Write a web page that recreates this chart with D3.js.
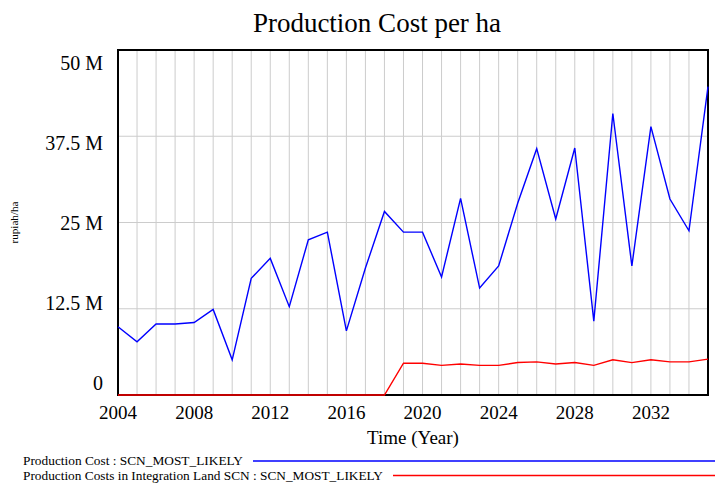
<!DOCTYPE html>
<html>
<head>
<meta charset="utf-8">
<script src="https://cdn.jsdelivr.net/npm/d3@7"></script>
<style>
  body { margin: 0; background: #fff; }
  svg text { font-family: "Liberation Serif", "Times New Roman", serif; fill: #000; }
</style>
</head>
<body>
<div id="root"></div>
<script>
// years 2004..2035
var years = d3.range(2004, 2036);
var xTickYears = [2004, 2008, 2012, 2016, 2020, 2024, 2028, 2032];
var yTicks = [0, 12.5e6, 25e6, 37.5e6, 50e6];
var yTickLabels = ["0", "12.5 M", "25 M", "37.5 M", "50 M"];

// Production Cost : SCN_MOST_LIKELY (rupiah/ha)
var prodCost = [9.9, 7.7, 10.3, 10.3, 10.5, 12.4, 5.1, 16.9, 19.8, 12.8, 22.5, 23.6,
  9.3, 18.4, 26.6, 23.6, 23.6, 17.1, 28.5, 15.5, 18.7, 27.8, 35.7, 25.5, 35.8,
  10.7, 40.8, 18.7, 38.9, 28.4, 23.8, 44.7].map(function (v) { return v * 1e6; });

// Production Costs in Integration Land SCN : SCN_MOST_LIKELY
var prodCostInteg = [0, 0, 0, 0, 0, 0, 0, 0, 0, 0, 0, 0, 0, 0, 0, 4.6, 4.6, 4.3, 4.5,
  4.3, 4.3, 4.7, 4.8, 4.5, 4.7, 4.3, 5.1, 4.7, 5.1, 4.8, 4.8, 5.2].map(function (v) { return v * 1e6; });

var seriesNames = ["Production Cost : SCN_MOST_LIKELY",
  "Production Costs in Integration Land SCN : SCN_MOST_LIKELY"];
var seriesColors = ["#0000ff", "#ff0000"];
var legendWidths = [220, 360];

var W = 715, H = 487;
var margin = { top: 50, right: 7, bottom: 92, left: 118 };
var width = W - margin.left - margin.right,
  height = H - margin.top - margin.bottom;

var svg = d3.select("#root").append("svg")
  .attr("width", W)
  .attr("height", H);

var xScale = d3.scaleLinear().domain([2004, 2035]).range([margin.left, margin.left + width]);
var yScale = d3.scaleLinear().domain([0, 50e6]).range([margin.top + height, margin.top]);
// tick labels are spread inside the plot height (vensim style)
var yLabelScale = d3.scaleLinear().domain([0, 50e6]).range([margin.top + height - 12, margin.top + 13]);

// title
svg.append("text")
  .attr("x", 377).attr("y", 32)
  .attr("text-anchor", "middle")
  .style("font-size", "27px")
  .text("Production Cost per ha");

// grid
var grid = svg.append("g").attr("class", "grid");
grid.selectAll("line.vx")
  .data(years.slice(1, -1))
  .enter().append("line")
  .attr("x1", function (d) { return xScale(d); })
  .attr("x2", function (d) { return xScale(d); })
  .attr("y1", margin.top).attr("y2", margin.top + height)
  .attr("stroke", "#cccccc").attr("stroke-width", 1);
grid.selectAll("line.hy")
  .data(yTicks.slice(1, -1))
  .enter().append("line")
  .attr("x1", margin.left).attr("x2", margin.left + width)
  .attr("y1", function (d) { return yScale(d); })
  .attr("y2", function (d) { return yScale(d); })
  .attr("stroke", "#cccccc").attr("stroke-width", 1.2);

// plot frame
svg.append("rect")
  .attr("x", margin.left).attr("y", margin.top)
  .attr("width", width).attr("height", height)
  .attr("fill", "none").attr("stroke", "#000").attr("stroke-width", 2);

// y labels
svg.selectAll("text.ylab")
  .data(yTicks)
  .enter().append("text")
  .attr("class", "ylab")
  .attr("x", margin.left - 15)
  .attr("y", function (d) { return yLabelScale(d); })
  .attr("dy", "0.35em")
  .attr("text-anchor", "end")
  .style("font-size", "20px")
  .text(function (d, i) { return yTickLabels[i]; });

// x labels
svg.selectAll("text.xlab")
  .data(xTickYears)
  .enter().append("text")
  .attr("class", "xlab")
  .attr("x", function (d) { return xScale(d); })
  .attr("y", margin.top + height + 24)
  .attr("text-anchor", "middle")
  .style("font-size", "19px")
  .text(function (d) { return d; });

svg.append("text")
  .attr("x", margin.left + width / 2)
  .attr("y", margin.top + height + 49)
  .attr("text-anchor", "middle")
  .style("font-size", "19px")
  .text("Time (Year)");

svg.append("text")
  .attr("transform", "translate(18," + (margin.top + height / 2) + ") rotate(-90)")
  .attr("text-anchor", "middle")
  .attr("textLength", 42)
  .attr("lengthAdjust", "spacingAndGlyphs")
  .style("font-size", "11px")
  .text("rupiah/ha");

// lines
var line = d3.line()
  .x(function (d, i) { return xScale(years[i]); })
  .y(function (d) { return yScale(d); });

[prodCostInteg, prodCost].forEach(function (s, k) {
  svg.append("path")
    .datum(s)
    .attr("fill", "none")
    .attr("stroke", seriesColors[1 - k])
    .attr("stroke-width", 1.4)
    .attr("d", line);
});

// legend
var leg = svg.append("g");
seriesNames.forEach(function (name, i) {
  var y = 461 + i * 14.5;
  leg.append("text")
    .attr("x", 23).attr("y", y + 4)
    .attr("textLength", legendWidths[i])
    .attr("lengthAdjust", "spacingAndGlyphs")
    .style("font-size", "11.5px")
    .text(name);
  leg.append("line")
    .attr("x1", 23 + legendWidths[i] + 10).attr("x2", W)
    .attr("y1", y).attr("y2", y)
    .attr("stroke", seriesColors[i]).attr("stroke-width", 1.4);
});
</script>
</body>
</html>
